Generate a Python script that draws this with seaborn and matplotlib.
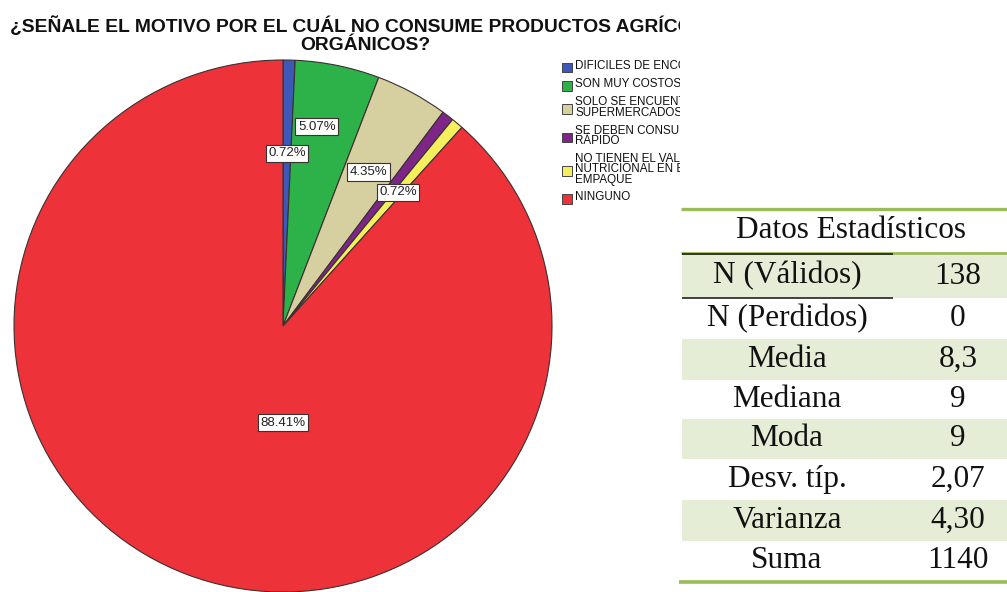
import numpy as np
import matplotlib
matplotlib.use("Agg")
import matplotlib.pyplot as plt
from matplotlib.patches import Rectangle
import seaborn as sns

# ---- data -------------------------------------------------------------
categories = [
    "DIFICILES DE ENCONTRAR",
    "SON MUY COSTOSOS",
    "SOLO SE ENCUENTRAN EN\nSUPERMERCADOS",
    "SE DEBEN CONSUMIR\nRÁPIDO",
    "NO TIENEN EL VALOR\nNUTRICIONAL EN EL\nEMPAQUE",
    "NINGUNO",
]
percent = [0.72, 5.07, 4.35, 0.72, 0.72, 88.41]
slice_colors = ["#3E58B8", "#2DB24A", "#D6CF9F", "#7D2687", "#F4EF5C", "#EE323A"]
# value-label placement: radius (fraction of pie radius) and angular nudge
label_radius = [0.65, 0.76, 0.66, None, 0.66, 0.363]
label_nudge = [0.0, 2.2, 0.0, 0.0, 0.0, 0.0]

title_lines = ["¿SEÑALE EL MOTIVO POR EL CUÁL NO CONSUME PRODUCTOS AGRÍCOLAS",
               "ORGÁNICOS?"]

table_title = "Datos Estadísticos"
stat_names = ["N (Válidos)", "N (Perdidos)", "Media", "Mediana", "Moda",
              "Desv. típ.", "Varianza", "Suma"]
stat_values = ["138", "0", "8,3", "9", "9", "2,07", "4,30", "1140"]

# ---- figure -----------------------------------------------------------
sns.set_theme(style="white")
plt.rcParams["font.family"] = ["Liberation Sans", "DejaVu Sans"]
palette = sns.color_palette(slice_colors)

W, H = 1007, 592
fig = plt.figure(figsize=(W / 100, H / 100), dpi=100)
fig.patch.set_facecolor("white")

# pie axes: centre (283, 326) px, radius ~268 px
cx, cy, Rx, Ry = 283, 326, 269, 266
ax = fig.add_axes([(cx - Rx) / W, (H - cy - Ry) / H, 2 * Rx / W, 2 * Ry / H])
wedges, _ = ax.pie(percent, colors=palette, startangle=90, counterclock=False,
                   radius=1.0,
                   wedgeprops=dict(edgecolor="#3a3030", linewidth=0.8))
for w in wedges:
    w.set_clip_on(False)
ax.set_xlim(-1, 1)
ax.set_ylim(-1, 1)
ax.set_aspect("auto")
ax.axis("off")

# value labels on slices
cum = np.cumsum([0] + percent[:-1])
for i, (p, r) in enumerate(zip(percent, label_radius)):
    if r is None:
        continue
    mid = 90 - (cum[i] + p / 2) * 3.6 + label_nudge[i]
    if p > 50:
        mid = -90
    ang = np.deg2rad(mid)
    ax.text(r * np.cos(ang), r * np.sin(ang), f"{p:.2f}%",
            ha="center", va="center", fontsize=9.5, color="#222222",
            bbox=dict(boxstyle="square,pad=0.2", fc="white",
                      ec="#3a3030", lw=0.8), zorder=5)

# chart frame area (title + legend), clipped on its right edge
ov = fig.add_axes([0, 0, 680 / W, 1])
ov.set_xlim(0, 680)
ov.set_ylim(H, 0)
ov.axis("off")
ov.patch.set_alpha(0)

ov.text(371, 26, title_lines[0], ha="center", va="center", fontsize=13.9,
        fontweight="bold", color="#111111", clip_on=True)
ov.text(365, 45, title_lines[1], ha="center", va="center", fontsize=13.9,
        fontweight="bold", color="#111111", clip_on=True)

# legend: swatch + (possibly wrapped) label
step = 10.0
y = 66.0
for cat, col in zip(categories, palette):
    n = cat.count("\n") + 1
    last = y + (n - 1) * step
    mid_y = (y + last) / 2 + 1.5
    ov.add_patch(Rectangle((562, mid_y - 4.9), 9.5, 9.8, facecolor=col,
                           edgecolor="#444444", lw=0.7))
    ov.text(575, (y + last) / 2, cat, ha="left", va="center", fontsize=8.4,
            linespacing=0.82, color="#111111", clip_on=True)
    y = last + 18.3

# ---- statistics table ------------------------------------------------
tb = fig.add_axes([0, 0, 1, 1])
tb.set_xlim(0, W)
tb.set_ylim(H, 0)
tb.axis("off")
tb.patch.set_alpha(0)

green = "#9BBB59"
shade = "#E5EDD6"
serif = ["Liberation Serif", "DejaVu Serif"]
row_edges = [254, 298, 339, 380, 419, 459, 500, 541, 581]

for i, (name, val) in enumerate(zip(stat_names, stat_values)):
    top, bot = row_edges[i], row_edges[i + 1]
    if i % 2 == 0:
        tb.add_patch(Rectangle((682, top), W - 682, bot - top,
                               facecolor=shade, edgecolor="none"))
    yc = (top + bot) / 2
    tb.text(787, yc, name, ha="center", va="center", fontsize=22.5,
            family=serif, color="#111111")
    tb.text(958, yc, val, ha="center", va="center", fontsize=22.5,
            family=serif, color="#111111")

tb.text(851, 231, table_title, ha="center", va="center", fontsize=22.5,
        family=serif, color="#111111")

tb.plot([681, W], [209, 209], color=green, lw=2.4, solid_capstyle="butt")
tb.plot([681, W], [252.5, 252.5], color=green, lw=2.0, solid_capstyle="butt")
tb.plot([682, 893], [254, 254], color="#111111", lw=1.1, solid_capstyle="butt")
tb.plot([682, 893], [298, 298], color="#111111", lw=1.1, solid_capstyle="butt")
tb.plot([679, W], [581.5, 581.5], color=green, lw=2.6, solid_capstyle="butt")

fig.savefig("out.png", dpi=100, facecolor="white")
